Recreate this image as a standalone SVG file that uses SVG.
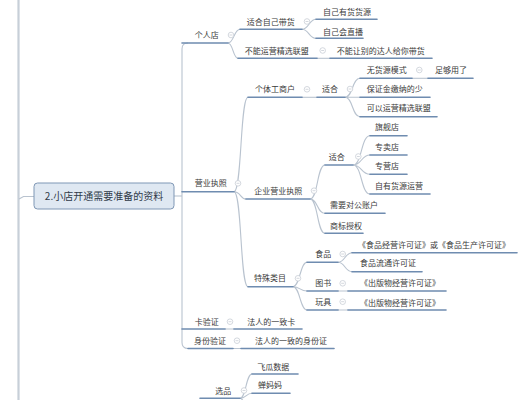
<svg xmlns="http://www.w3.org/2000/svg" xmlns:xlink="http://www.w3.org/1999/xlink" width="522" height="400" viewBox="0 0 522 400">
<defs>
<style>
.t{font-family:"Noto Sans CJK SC","Noto Sans",sans-serif;font-size:8px;fill:#3a3a3a}
.r{font-family:"Noto Sans CJK SC","Noto Sans",sans-serif;font-size:10px;fill:#2f3a48}
.u{stroke:#6f8cb0;stroke-width:1.6;fill:none;stroke-linecap:round}
.c{stroke:#b9c3cf;stroke-width:1.1;fill:none}
.b circle{fill:#fff;stroke:#c9ced6;stroke-width:0.8}
.b path{stroke:#c9ced6;stroke-width:0.8}
</style>
<g id="btn" class="b"><circle r="2.8"/><path d="M-1.5 0H1.5"/></g>
</defs>
<rect width="522" height="400" fill="#ffffff"/>

<g id="connectors">
<path class="c" d="M18.5 0V400" style="stroke:#c7cfd8;stroke-width:2.2"/>
<path class="c" d="M19 199L23.5 196.5H34"/>
<path class="c" d="M174 196H182"/>
<path class="c" d="M188 43Q182 43 182 49V342.5Q182 348.5 188 348.5"/>
<path class="c" d="M228 43C234 43 234 29.3 240 29.3M228 43C233 43 233 58.3 238 58.3"/>
<path class="c" d="M302 29.3C309 29.3 309 19.3 316 19.3M302 29.3C309 29.3 309 38.3 316 38.3"/>
<path class="c" d="M317 58.3H330"/>
<path class="c" d="M234 191.7C242 191.7 240 97.3 248 97.3M234 191.7C241 191.7 240 199 246 199M234 191.7C242 191.7 240 286.7 248 286.7"/>
<path class="c" d="M302 97.3H317"/>
<path class="c" d="M345 97.3C353 97.3 352 78.3 360 78.3M345 97.3H360M345 97.3C353 97.3 352 116.7 360 116.7"/>
<path class="c" d="M412 78.3H428"/>
<path class="c" d="M310 199C318 199 317 165 325 165M310 199C318 199 317 213.3 325 213.3M310 199C318 199 317 233.3 325 233.3"/>
<path class="c" d="M353 165C362 165 361 135.7 370 135.7M353 165C362 165 361 155 370 155M353 165C362 165 361 174.3 370 174.3M353 165C362 165 361 194 370 194"/>
<path class="c" d="M293 286.7C300 286.7 300 262.3 307 262.3M293 286.7C300 286.7 300 291 307 291M293 286.7C300 286.7 300 310 307 310"/>
<path class="c" d="M338 262.3C345 262.3 345 252.7 352 252.7M338 262.3C345 262.3 345 271.7 352 271.7"/>
<path class="c" d="M338 291H348M338 310H348"/>
<path class="c" d="M225 329H234M233 348.5H241"/>
<path class="c" d="M240 398.3C246 398.3 246 374 252 374M240 398.3C246 398.3 246 393.3 252 393.3M240 398.3C246 398.3 246 420 252 420"/>
</g>

<g id="root">
<rect x="34" y="183" width="140" height="26" rx="3.5" fill="#dfe8f2" stroke="#7f97b5" stroke-width="1"/>
<text class="r" x="104" y="199.5" text-anchor="middle">2.小店开通需要准备的资料</text>
</g>

<g id="n-gerendian"><text class="t" x="194.7" y="38">个人店</text><path class="u" d="M182 43H228"/><use xlink:href="#btn" x="231" y="35"/></g>
<g id="n-shihe-daihuo"><text class="t" x="246.7" y="24.5">适合自己带货</text><path class="u" d="M240 29.3H302"/><use xlink:href="#btn" x="307" y="21.5"/></g>
<g id="n-youhuo"><text class="t" x="323" y="14.5">自己有货货源</text><path class="u" d="M316 19.3H377"/></g>
<g id="n-zhibo"><text class="t" x="323" y="34.5">自己会直播</text><path class="u" d="M316 38.3H363"/></g>
<g id="n-buneng-lianmeng"><text class="t" x="244.7" y="53.5">不能运营精选联盟</text><path class="u" d="M238 58.3H317"/><use xlink:href="#btn" x="322.7" y="50.5"/></g>
<g id="n-buneng-daren"><text class="t" x="336.7" y="53.5">不能让别的达人给你带货</text><path class="u" d="M330 58.3H432"/></g>

<g id="n-yingye"><text class="t" x="194.7" y="186.3">营业执照</text><path class="u" d="M182 191.7H234"/><use xlink:href="#btn" x="238" y="183.3"/></g>
<g id="n-geti"><text class="t" x="255" y="92.3">个体工商户</text><path class="u" d="M248 97.3H302"/><use xlink:href="#btn" x="307" y="89.3"/></g>
<g id="n-shihe-a"><text class="t" x="322" y="92.3">适合</text><path class="u" d="M317 97.3H345"/><use xlink:href="#btn" x="350" y="89"/></g>
<g id="n-wuhuoyuan"><text class="t" x="366.7" y="73">无货源模式</text><path class="u" d="M360 78.3H412"/><use xlink:href="#btn" x="419.3" y="70"/></g>
<g id="n-zugou"><text class="t" x="435" y="73">足够用了</text><path class="u" d="M428 78.3H473"/></g>
<g id="n-baozhengjin"><text class="t" x="366.7" y="92.3">保证金缴纳的少</text><path class="u" d="M360 97.3H430"/></g>
<g id="n-keyi-lianmeng"><text class="t" x="366.7" y="111.3">可以运营精选联盟</text><path class="u" d="M360 116.7H437"/></g>

<g id="n-qiye"><text class="t" x="254.3" y="193.7">企业营业执照</text><path class="u" d="M246 199H310"/><use xlink:href="#btn" x="314" y="190.7"/></g>
<g id="n-shihe-b"><text class="t" x="328.7" y="159.7">适合</text><path class="u" d="M325 165H353"/><use xlink:href="#btn" x="358.3" y="156.5"/></g>
<g id="n-qijian"><text class="t" x="375" y="130.3">旗舰店</text><path class="u" d="M370 135.7H407"/></g>
<g id="n-zhuanmai"><text class="t" x="375" y="149.7">专卖店</text><path class="u" d="M370 155H407"/></g>
<g id="n-zhuanying"><text class="t" x="375" y="169.3">专营店</text><path class="u" d="M370 174.3H407"/></g>
<g id="n-ziyou"><text class="t" x="375" y="189">自有货源运营</text><path class="u" d="M370 194H430"/></g>
<g id="n-duigong"><text class="t" x="330" y="208">需要对公账户</text><path class="u" d="M325 213.3H385"/></g>
<g id="n-shangbiao"><text class="t" x="330" y="228.5">商标授权</text><path class="u" d="M325 233.3H363"/></g>

<g id="n-teshu"><text class="t" x="254" y="281.3">特殊类目</text><path class="u" d="M248 286.7H293"/><use xlink:href="#btn" x="298" y="278.3"/></g>
<g id="n-shipin"><text class="t" x="315.3" y="257">食品</text><path class="u" d="M307 262.3H338"/><use xlink:href="#btn" x="342.7" y="254"/></g>
<g id="n-shipin-xuke"><text class="t" x="358" y="248">《食品经营许可证》或《食品生产许可证》</text><path class="u" d="M352 252.7H517"/></g>
<g id="n-liutong"><text class="t" x="360" y="266.3">食品流通许可证</text><path class="u" d="M352 271.7H422"/></g>
<g id="n-tushu"><text class="t" x="315.3" y="286.3">图书</text><path class="u" d="M307 291H338"/><use xlink:href="#btn" x="342.7" y="283.3"/></g>
<g id="n-chuban-1"><text class="t" x="360" y="286.3">《出版物经营许可证》</text><path class="u" d="M348 291H446"/></g>
<g id="n-wanju"><text class="t" x="315.3" y="304.7">玩具</text><path class="u" d="M307 310H338"/><use xlink:href="#btn" x="342.7" y="301.7"/></g>
<g id="n-chuban-2"><text class="t" x="360" y="305.7">《出版物经营许可证》</text><path class="u" d="M348 310H446"/></g>

<g id="n-kayanzheng"><text class="t" x="194.7" y="324.7">卡验证</text><path class="u" d="M182 329H225"/><use xlink:href="#btn" x="230" y="321.7"/></g>
<g id="n-yizhika"><text class="t" x="247.3" y="324.7">法人的一致卡</text><path class="u" d="M234 329H302"/></g>
<g id="n-shenfen"><text class="t" x="194" y="343.7">身份验证</text><path class="u" d="M188 348.5H233"/><use xlink:href="#btn" x="237" y="340.7"/></g>
<g id="n-shenfenzheng"><text class="t" x="255" y="343.7">法人的一致的身份证</text><path class="u" d="M241 348.5H334"/></g>

<g id="n-xuanpin"><text class="t" x="215.3" y="393.5">选品</text><path class="u" d="M200 398.3H240"/><use xlink:href="#btn" x="244" y="390.5"/></g>
<g id="n-feigua"><text class="t" x="257.3" y="369.7">飞瓜数据</text><path class="u" d="M252 374H298"/></g>
<g id="n-chanmama"><text class="t" x="258" y="388">蝉妈妈</text><path class="u" d="M252 393.3H290"/></g>
</svg>
